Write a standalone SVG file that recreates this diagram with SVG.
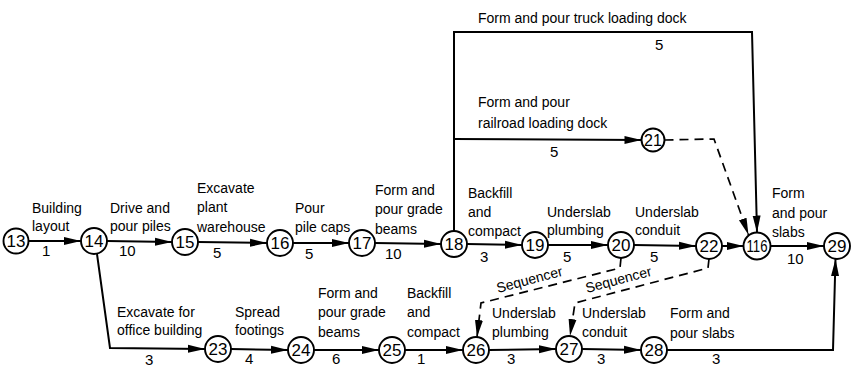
<svg xmlns="http://www.w3.org/2000/svg" width="855" height="368" viewBox="0 0 855 368">
<style>
  .c{fill:#fff;stroke:#000;stroke-width:1.9}
  .n{font-family:"Liberation Sans",Arial,sans-serif;font-size:17px;text-anchor:middle;fill:#000}
  .e{fill:none;stroke:#000;stroke-width:2;marker-end:url(#ah)}
  .d{fill:none;stroke:#000;stroke-width:1.7;stroke-dasharray:9,6;marker-end:url(#ah)}
  .t{font-family:"Liberation Sans",Arial,sans-serif;font-size:14px;fill:#000}
  .w{font-family:"Liberation Sans",Arial,sans-serif;font-size:15px;fill:#000}
</style>
<defs>
  <marker id="ah" markerUnits="userSpaceOnUse" markerWidth="18" markerHeight="10" refX="17" refY="5" orient="auto">
    <path d="M0,1 L17,5 L0,9 z" fill="#000"/>
  </marker>
</defs>
<rect width="855" height="368" fill="#fff"/>
<g id="connectors">
  <path class="e" d="M28.5,241 L81,241"/>
  <path class="e" d="M107,241 L172,242"/>
  <path class="e" d="M198,242 L267,243"/>
  <path class="e" d="M293,243 L349,243"/>
  <path class="e" d="M375,243 L441,244"/>
  <path class="e" d="M467,244 L522,245"/>
  <path class="e" d="M548,245 L608,245"/>
  <path class="e" d="M634,245 L696,246"/>
  <path class="e" d="M722,246 L743.5,246"/>
  <path class="e" d="M770.5,246 L824,246"/>
  <path class="e" d="M97,254 L110,348 L205,349"/>
  <path class="e" d="M231,349 L288,350"/>
  <path class="e" d="M314,350 L379,350"/>
  <path class="e" d="M405,350 L463,350"/>
  <path class="e" d="M489,350 L556,349"/>
  <path class="e" d="M582,349 L641,350"/>
  <path class="e" d="M667,350 L833,350 L835.5,259"/>
  <path class="e" d="M454,231 L454,32 L752,32 L757,232.5"/>
  <path class="e" d="M454,139 L641.5,140"/>
  <path class="d" d="M664.5,140 L714,139 L748.5,235"/>
  <path class="d" d="M621,258 L620,268 L481,303 L477,337"/>
  <path class="d" d="M709,259 L708,268 L575,303 L570,336"/>
</g>
<g id="edge-labels">
  <text class="t" x="32" y="213">Building</text>
  <text class="t" x="32" y="231">layout</text>
  <text class="w" x="42" y="256">1</text>
  <text class="t" x="110" y="213">Drive and</text>
  <text class="t" x="110" y="231">pour piles</text>
  <text class="w" x="119" y="256">10</text>
  <text class="t" x="197" y="193">Excavate</text>
  <text class="t" x="197" y="212">plant</text>
  <text class="t" x="197" y="232">warehouse</text>
  <text class="w" x="213" y="258">5</text>
  <text class="t" x="295" y="213">Pour</text>
  <text class="t" x="295" y="232">pile caps</text>
  <text class="w" x="305" y="259">5</text>
  <text class="t" x="375" y="195">Form and</text>
  <text class="t" x="375" y="214">pour grade</text>
  <text class="t" x="375" y="234">beams</text>
  <text class="w" x="385" y="259">10</text>
  <text class="t" x="468" y="198">Backfill</text>
  <text class="t" x="468" y="217">and</text>
  <text class="t" x="468" y="236">compact</text>
  <text class="w" x="480" y="262">3</text>
  <text class="t" x="547" y="217">Underslab</text>
  <text class="t" x="547" y="235">plumbing</text>
  <text class="w" x="563" y="262">5</text>
  <text class="t" x="635" y="217">Underslab</text>
  <text class="t" x="635" y="235">conduit</text>
  <text class="w" x="650" y="262">5</text>
  <text class="t" x="772" y="198">Form</text>
  <text class="t" x="772" y="218">and pour</text>
  <text class="t" x="772" y="237">slabs</text>
  <text class="w" x="787" y="264">10</text>
  <text class="t" x="478" y="23">Form and pour truck loading dock</text>
  <text class="w" x="655" y="50">5</text>
  <text class="t" x="478" y="107">Form and pour</text>
  <text class="t" x="478" y="128">railroad loading dock</text>
  <text class="w" x="550" y="157">5</text>
  <text class="t" x="117" y="317">Excavate for</text>
  <text class="t" x="117" y="335">office building</text>
  <text class="w" x="145" y="365">3</text>
  <text class="t" x="235" y="317">Spread</text>
  <text class="t" x="235" y="335">footings</text>
  <text class="w" x="245" y="364">4</text>
  <text class="t" x="318" y="298">Form and</text>
  <text class="t" x="318" y="317">pour grade</text>
  <text class="t" x="318" y="337">beams</text>
  <text class="w" x="332" y="364">6</text>
  <text class="t" x="407" y="298">Backfill</text>
  <text class="t" x="407" y="317">and</text>
  <text class="t" x="407" y="337">compact</text>
  <text class="w" x="417" y="364">1</text>
  <text class="t" x="492" y="318">Underslab</text>
  <text class="t" x="492" y="337">plumbing</text>
  <text class="w" x="507" y="364">3</text>
  <text class="t" x="582" y="318">Underslab</text>
  <text class="t" x="582" y="337">conduit</text>
  <text class="w" x="597" y="364">3</text>
  <text class="t" x="670" y="318">Form and</text>
  <text class="t" x="670" y="338">pour slabs</text>
  <text class="w" x="712" y="364">3</text>
  <text class="t" transform="translate(498,293) rotate(-15)">Sequencer</text>
  <text class="t" transform="translate(587,293) rotate(-15)">Sequencer</text>
</g>
<g id="n13"><circle class="c" cx="16" cy="241" r="12.5"/><text class="n" x="16" y="247">13</text></g>
<g id="n14"><circle class="c" cx="94" cy="241" r="13"/><text class="n" x="94" y="247">14</text></g>
<g id="n15"><circle class="c" cx="185" cy="242" r="13"/><text class="n" x="185" y="248">15</text></g>
<g id="n16"><circle class="c" cx="280" cy="243" r="13"/><text class="n" x="280" y="249">16</text></g>
<g id="n17"><circle class="c" cx="362" cy="243" r="13"/><text class="n" x="362" y="249">17</text></g>
<g id="n18"><circle class="c" cx="454" cy="244" r="13"/><text class="n" x="454" y="250">18</text></g>
<g id="n19"><circle class="c" cx="535" cy="245" r="13"/><text class="n" x="535" y="251">19</text></g>
<g id="n20"><circle class="c" cx="621" cy="245" r="13"/><text class="n" x="621" y="251">20</text></g>
<g id="n22"><circle class="c" cx="709" cy="246" r="13"/><text class="n" x="709" y="252">22</text></g>
<g id="n116"><circle class="c" cx="757" cy="246" r="13.5"/><text class="n" x="757" y="252" textLength="21" lengthAdjust="spacingAndGlyphs">116</text></g>
<g id="n29"><circle class="c" cx="837" cy="246" r="13"/><text class="n" x="837" y="252">29</text></g>
<g id="n21"><circle class="c" cx="653" cy="140" r="11.5"/><text class="n" x="653" y="146" style="font-size:16px">21</text></g>
<g id="n23"><circle class="c" cx="218" cy="349" r="13"/><text class="n" x="218" y="355">23</text></g>
<g id="n24"><circle class="c" cx="301" cy="350" r="13"/><text class="n" x="301" y="356">24</text></g>
<g id="n25"><circle class="c" cx="392" cy="350" r="13"/><text class="n" x="392" y="356">25</text></g>
<g id="n26"><circle class="c" cx="476" cy="350" r="13"/><text class="n" x="476" y="356">26</text></g>
<g id="n27"><circle class="c" cx="569" cy="349" r="13"/><text class="n" x="569" y="355">27</text></g>
<g id="n28"><circle class="c" cx="654" cy="350" r="13"/><text class="n" x="654" y="356">28</text></g>
</svg>
